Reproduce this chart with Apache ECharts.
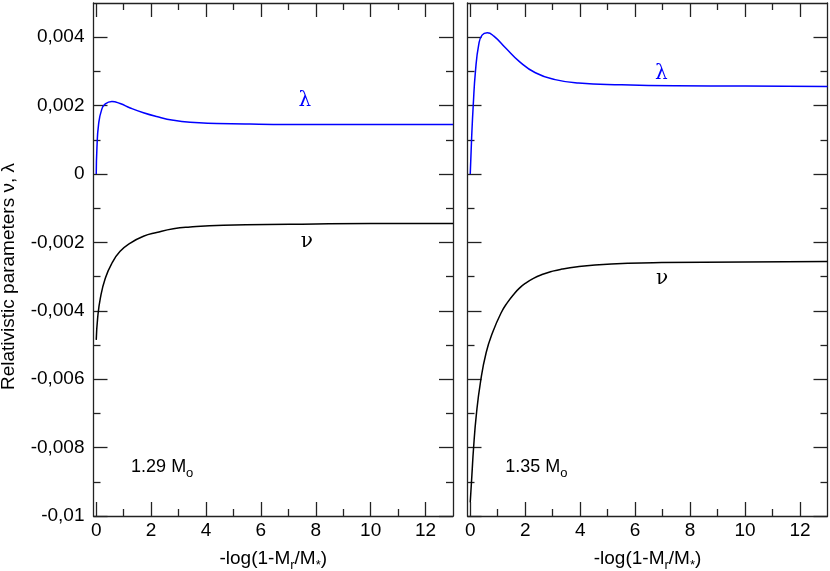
<!DOCTYPE html>
<html><head><meta charset="utf-8">
<script src="https://cdn.jsdelivr.net/npm/echarts@6/dist/echarts.min.js"></script>
<style>html,body{margin:0;padding:0;background:#fff}#c{width:830px;height:571px}</style>
</head><body><div id="c"></div>
<script>
// ---- data ----
const xMajorTicks = [0, 2, 4, 6, 8, 10, 12];
const xMinorTicks = [1, 3, 5, 7, 9, 11];
const yMajorTicks = [-0.01, -0.008, -0.006, -0.004, -0.002, 0, 0.002, 0.004];
const panelNames = ['1.29', '1.35'];

const lambda129 = [[0,0],[0.025,0.00076],[0.085,0.00145],[0.2,0.00189],[0.33,0.00205],[0.57,0.00212],[0.87,0.00206],[1.24,0.00193],[1.72,0.00179],[2.2,0.00168],[2.81,0.00157],[3.42,0.00151],[4.39,0.00148],[5.6,0.00146],[7,0.00145],[9,0.00145],[11,0.00145],[13,0.00145]];
const nu129 = [[0,-0.00485],[0.05,-0.00422],[0.15,-0.00363],[0.33,-0.00305],[0.57,-0.00261],[0.87,-0.00226],[1.24,-0.00202],[1.72,-0.00182],[2.2,-0.00171],[2.81,-0.0016],[3.42,-0.00155],[4.63,-0.0015],[7.05,-0.00147],[10,-0.00145],[13,-0.00145]];
const lambda135 = [[0,0],[0.05,0.00105],[0.11,0.00203],[0.19,0.00301],[0.31,0.00379],[0.43,0.00406],[0.62,0.00413],[0.86,0.00403],[1.28,0.00369],[1.77,0.0033],[2.37,0.00296],[3.09,0.00276],[3.94,0.00266],[5.51,0.00261],[7.5,0.00258],[10,0.00257],[13,0.00256]];
const nu135 = [[0,-0.0096],[0.06,-0.0088],[0.12,-0.00802],[0.22,-0.00705],[0.375,-0.00607],[0.58,-0.00522],[0.82,-0.00462],[1.13,-0.00405],[1.35,-0.00376],[1.6,-0.0035],[1.8,-0.00333],[2.0,-0.0032],[2.3,-0.00305],[2.61,-0.00294],[3.0,-0.00284],[3.33,-0.00278],[3.9,-0.00271],[4.54,-0.00266],[5.75,-0.00261],[6.96,-0.00259],[10,-0.00257],[13,-0.00256]];

// label anchor positions (data coords)
const lambdaLabelPos = [[7.6, 0.00213], [6.95, 0.00292]];
const nuLabelPos = [[7.67, -0.00197], [6.98, -0.00305]];
const massLabelPos = [[1.27, -0.00856], [1.27, -0.00856]];

// ---- chart ----
const FONT = 'Liberation Sans';
const AX = '#222';
const chart = echarts.init(document.getElementById('c'), null, {renderer: 'canvas'});
const grids = [
  {left: 93.5, top: 3, width: 359.5, height: 513, containLabel: false, outerBoundsMode: 'none'},
  {left: 467.5, top: 3, width: 360, height: 513, containLabel: false, outerBoundsMode: 'none'}
];
const xAxes = [], yAxes = [];
const yFmt = v => (Math.abs(v) < 1e-12 ? '0' : String(+v.toFixed(3)).replace('.', ','));
const xNameRich = {
  a: {fontFamily: FONT, fontSize: 19, color: '#000', lineHeight: 22},
  s: {fontFamily: FONT, fontSize: 13, color: '#000', lineHeight: 22, padding: [14, 0, 0, 0]}
};
const tickStyle = {color: AX, width: 1.3};
for (let g = 0; g < 2; g++) {
  const base = {gridIndex: g, type: 'value', min: -0.1, max: 13, splitLine: {show: false}};
  xAxes.push(Object.assign({}, base, {
    position: 'bottom',
    axisLine: {show: true, onZero: false, lineStyle: tickStyle},
    axisTick: {show: true, inside: true, length: 14, customValues: xMajorTicks, lineStyle: tickStyle},
    axisLabel: {show: true, customValues: xMajorTicks, margin: 5, fontFamily: FONT, fontSize: 19, color: '#000'},
    name: '{a|-log(1-M}{s|r}{a|/M}{s|*}{a|)}',
    nameLocation: 'middle', nameGap: 28,
    nameTextStyle: {rich: xNameRich}
  }));
  xAxes.push(Object.assign({}, base, {
    position: 'bottom',
    axisLine: {show: false, onZero: false},
    axisTick: {show: true, inside: true, length: 7, customValues: xMinorTicks, lineStyle: tickStyle},
    axisLabel: {show: false}
  }));
  xAxes.push(Object.assign({}, base, {
    position: 'top',
    axisLine: {show: true, onZero: false, lineStyle: tickStyle},
    axisTick: {show: true, inside: true, length: 14, customValues: xMajorTicks, lineStyle: tickStyle},
    axisLabel: {show: false}
  }));
  xAxes.push(Object.assign({}, base, {
    position: 'top',
    axisLine: {show: false, onZero: false},
    axisTick: {show: true, inside: true, length: 7, customValues: xMinorTicks, lineStyle: tickStyle},
    axisLabel: {show: false}
  }));
  const ybase = {gridIndex: g, type: 'value', min: -0.01, max: 0.005, interval: 0.002, splitLine: {show: false}};
  for (const pos of ['left', 'right']) {
    yAxes.push(Object.assign({}, ybase, {
      position: pos,
      axisLine: {show: true, onZero: false, lineStyle: tickStyle},
      axisTick: {show: true, inside: true, length: 14, customValues: yMajorTicks, lineStyle: tickStyle},
      minorTick: {show: true, splitNumber: 2, length: 7, lineStyle: tickStyle},
      axisLabel: {show: g === 0 && pos === 'left', customValues: yMajorTicks, margin: 9, fontFamily: FONT, fontSize: 19, color: '#000', formatter: yFmt},
      name: (g === 0 && pos === 'left') ? 'Relativistic parameters ν, λ' : '',
      nameLocation: 'middle', nameGap: 75,
      nameTextStyle: {fontFamily: FONT, fontSize: 19, color: '#000', padding: [0, 34, 0, 0]}
    }));
  }
}

function greekPoint(text, pos, color) {
  return {coord: pos, value: text,
    label: {show: true, position: 'inside', formatter: text, fontFamily: 'DejaVu Serif', fontSize: 20, color: color}};
}
function massPoint(name, pos) {
  return {coord: pos, value: name,
    label: {show: true, position: 'inside', align: 'left', formatter: '{a|' + name + ' M}{s|o}',
      rich: {
        a: {fontFamily: FONT, fontSize: 18, color: '#000', lineHeight: 22},
        s: {fontFamily: FONT, fontSize: 13, color: '#000', lineHeight: 22, padding: [14, 0, 0, 0]}
      }}};
}
function curve(data, g, color, marks) {
  return {
    type: 'line', xAxisIndex: g * 4, yAxisIndex: g * 2, data: data,
    showSymbol: false, smooth: 0.5,
    lineStyle: {color: color, width: 1.5}, itemStyle: {color: color},
    silent: true, animation: false,
    markPoint: {symbol: 'circle', symbolSize: 0, silent: true, animation: false, data: marks}
  };
}
const series = [];
const lamData = [lambda129, lambda135], nuData = [nu129, nu135];
for (let g = 0; g < 2; g++) {
  series.push(curve(lamData[g], g, '#0000ff', [greekPoint('λ', lambdaLabelPos[g], '#0000ff')]));
  series.push(curve(nuData[g], g, '#000000', [greekPoint('ν', nuLabelPos[g], '#000000'), massPoint(panelNames[g], massLabelPos[g])]));
}
chart.setOption({
  animation: false,
  grid: grids,
  xAxis: xAxes,
  yAxis: yAxes,
  series: series
});
</script></body></html>
